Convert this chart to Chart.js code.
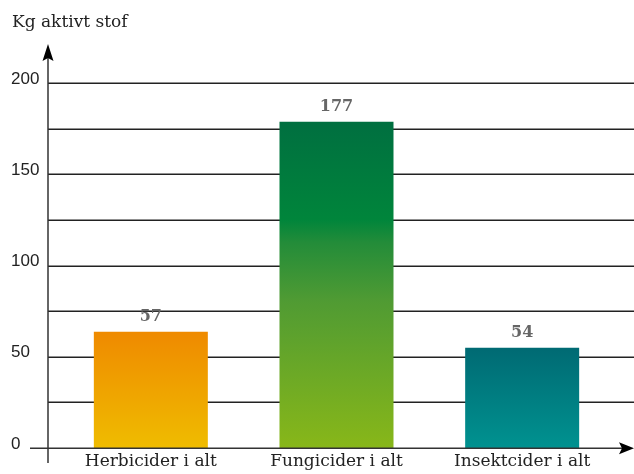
<!DOCTYPE html>
<html>
<head>
<meta charset="utf-8">
<script src="https://cdn.jsdelivr.net/npm/chart.js@4/dist/chart.umd.min.js"></script>
<style>
html,body{margin:0;padding:0;background:#fff;}
canvas{display:block;}
</style>
</head>
<body>
<canvas id="c" width="634" height="474"></canvas>
<script>
const categories = ['Herbicider i alt', 'Fungicider i alt', 'Insektcider i alt'];
const barValues = [63.7, 178.8, 54.9];
const valueLabels = ['57', '177', '54'];
const yTickLabels = [0, 50, 100, 150, 200];
const axisTitle = 'Kg aktivt stof';

const gradientStops = [
  [[0, '#ef8a00'], [1, '#efbc00']],
  [[0, '#006f40'], [0.3, '#00853b'], [0.37, '#238c39'], [0.55, '#509b33'], [1, '#88b719']],
  [[0, '#006a73'], [1, '#009290']]
];

const serif = '"DejaVu Serif", serif';
const sans = '"Liberation Sans", Arial, sans-serif';

function barGradient(ctx) {
  const chart = ctx.chart;
  const i = ctx.dataIndex;
  const stops = gradientStops[i] || gradientStops[0];
  if (!chart.chartArea || !chart.scales.y) return stops[0][1];
  const y = chart.scales.y;
  const top = y.getPixelForValue(barValues[i]);
  const bottom = y.getPixelForValue(0);
  const g = chart.ctx.createLinearGradient(0, top, 0, bottom);
  stops.forEach(s => g.addColorStop(s[0], s[1]));
  return g;
}

const decor = {
  id: 'decor',
  beforeDatasetsDraw(chart) {
    const c = chart.ctx;
    const y = chart.scales.y;
    c.save();
    c.strokeStyle = '#222';
    c.lineWidth = 1.5;
    y.ticks.forEach(t => {
      if (t.value === 0) return;
      const py = Math.round(y.getPixelForValue(t.value)) + 0.25;
      c.beginPath();
      c.moveTo(48, py);
      c.lineTo(634, py);
      c.stroke();
    });
    c.restore();
  },
  afterDatasetsDraw(chart) {
    const c = chart.ctx;
    const y = chart.scales.y;
    const y0 = Math.round(y.getPixelForValue(0)) + 0.25;
    const yTop = y.getPixelForValue(200);
    c.save();
    c.strokeStyle = '#333';
    c.lineWidth = 1.5;
    c.beginPath();
    c.moveTo(30, y0);
    c.lineTo(624, y0);
    c.stroke();
    c.beginPath();
    c.moveTo(48, 463);
    c.lineTo(48, yTop - 30);
    c.stroke();
    c.fillStyle = '#000';
    c.beginPath();
    c.moveTo(48, yTop - 39);
    c.lineTo(53.5, yTop - 22);
    c.lineTo(48, yTop - 25);
    c.lineTo(42.5, yTop - 22);
    c.closePath();
    c.fill();
    c.beginPath();
    c.moveTo(634, y0);
    c.lineTo(619, y0 - 6);
    c.lineTo(622, y0);
    c.lineTo(619, y0 + 6);
    c.closePath();
    c.fill();
    const meta = chart.getDatasetMeta(0);
    c.fillStyle = '#666';
    c.font = 'bold 16px ' + serif;
    c.textAlign = 'center';
    c.textBaseline = 'middle';
    meta.data.forEach((bar, i) => {
      c.fillText(valueLabels[i], bar.x, bar.y - 15);
    });
    c.fillStyle = '#222';
    c.font = '17px ' + serif;
    c.textAlign = 'left';
    c.textBaseline = 'alphabetic';
    c.fillText(axisTitle, 12, 27);
    c.restore();
  }
};

new Chart(document.getElementById('c'), {
  type: 'bar',
  data: {
    labels: categories,
    datasets: [{
      data: barValues,
      backgroundColor: barGradient,
      borderWidth: 0,
      categoryPercentage: 1,
      barPercentage: 0.614
    }]
  },
  options: {
    responsive: false,
    devicePixelRatio: 1,
    animation: false,
    events: [],
    layout: { padding: { left: 11, right: 19, top: 83, bottom: 0 } },
    plugins: { legend: { display: false }, tooltip: { enabled: false }, title: { display: false } },
    scales: {
      x: {
        grid: { display: false, drawTicks: false },
        border: { display: false },
        ticks: {
          color: '#222',
          font: { family: serif, size: 17 },
          padding: 3,
          maxRotation: 0,
          autoSkip: false
        },
        afterFit(s) { s.height = 26; }
      },
      y: {
        min: 0,
        max: 200,
        grid: { display: false, drawTicks: false },
        border: { display: false },
        ticks: {
          stepSize: 25,
          color: '#222',
          font: { family: sans, size: 17 },
          crossAlign: 'far',
          labelOffset: -4,
          padding: 0,
          callback: v => (yTickLabels.includes(v) ? String(v) : '')
        },
        afterFit(s) { s.width = 47; }
      }
    }
  },
  plugins: [decor]
});
</script>
</body>
</html>
